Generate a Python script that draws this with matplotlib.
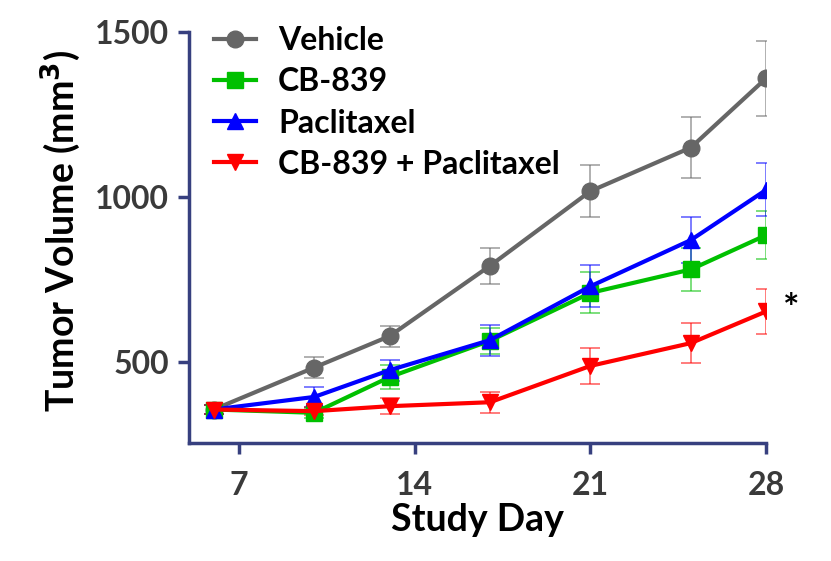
import matplotlib
matplotlib.use('Agg')
from matplotlib import pyplot as plt

# tumor volume (mm^3), mean and SEM
days = [6, 10, 13, 17, 21, 25, 28]

vehicle = [357, 484, 579, 792, 1018, 1150, 1360]
vehicle_err = [15, 33, 32, 55, 79, 92, 114]

cb839 = [357, 347, 455, 565, 710, 781, 885]
cb839_err = [15, 15, 36, 40, 62, 66, 72]

pacli = [357, 395, 476, 567, 730, 870, 1022]
pacli_err = [15, 31, 32, 47, 64, 70, 80]

combo = [357, 352, 367, 379, 489, 558, 654]
combo_err = [15, 12, 25, 32, 54, 61, 68]

labels = ['Vehicle', 'CB-839', 'Paclitaxel', 'CB-839 + Paclitaxel']
colors = ['#666666', '#00c000', '#0000ff', '#ff0000']
markers = ['o', 's', '^', 'v']

plt.rcParams['font.family'] = ['Lato', 'DejaVu Sans']
plt.rcParams['font.weight'] = 'bold'

fig = plt.figure(figsize=(8.31, 5.61), dpi=100)
ax = fig.add_axes([0.227, 0.21, 0.695, 0.733])

spine_col = '#37407f'
series = [(vehicle, vehicle_err), (cb839, cb839_err), (pacli, pacli_err), (combo, combo_err)]
for (y, e), lab, c, m in zip(series, labels, colors, markers):
    ax.errorbar(days, y, yerr=e, fmt='none', ecolor=c, elinewidth=1.2, capsize=7, capthick=1.2, alpha=0.6, zorder=2)
    ax.plot(days, y, color=c, lw=3, marker=m, ms=12, label=lab, zorder=3)

ax.text(29.0, combo[-1] + 5, '*', fontsize=28, fontweight='bold', ha='center', va='center')

ax.set_xlim(5, 28)
ax.set_ylim(255, 1500)
ax.set_xticks([7, 14, 21, 28])
ax.set_yticks([500, 1000, 1500])
ax.tick_params(direction='out', length=8, width=2.5, color=spine_col, labelsize=23, labelcolor='#3a3a3a')
ax.tick_params(axis='x', pad=12)
ax.tick_params(axis='y', pad=6)
for lbl in ax.get_xticklabels() + ax.get_yticklabels():
    lbl.set_fontweight('bold')
for s in ['top', 'right']:
    ax.spines[s].set_visible(False)
for s in ['left', 'bottom']:
    ax.spines[s].set_color(spine_col)
    ax.spines[s].set_linewidth(2.5)

ax.set_xlabel('Study Day', fontsize=27, fontweight='bold', labelpad=2)
ax.set_ylabel('Tumor Volume (mm$^\\mathbf{3}$)', fontsize=27, fontweight='bold', labelpad=6)
ax.yaxis.set_label_coords(-0.183, 0.515)

leg = ax.legend(loc='upper left', bbox_to_anchor=(0.022, 1.045), frameon=False, fontsize=23,
                handlelength=1.3, handletextpad=0.7, labelspacing=0.38, borderaxespad=0)
for t in leg.get_texts():
    t.set_fontweight('bold')

fig.savefig('out.png', dpi=100)
